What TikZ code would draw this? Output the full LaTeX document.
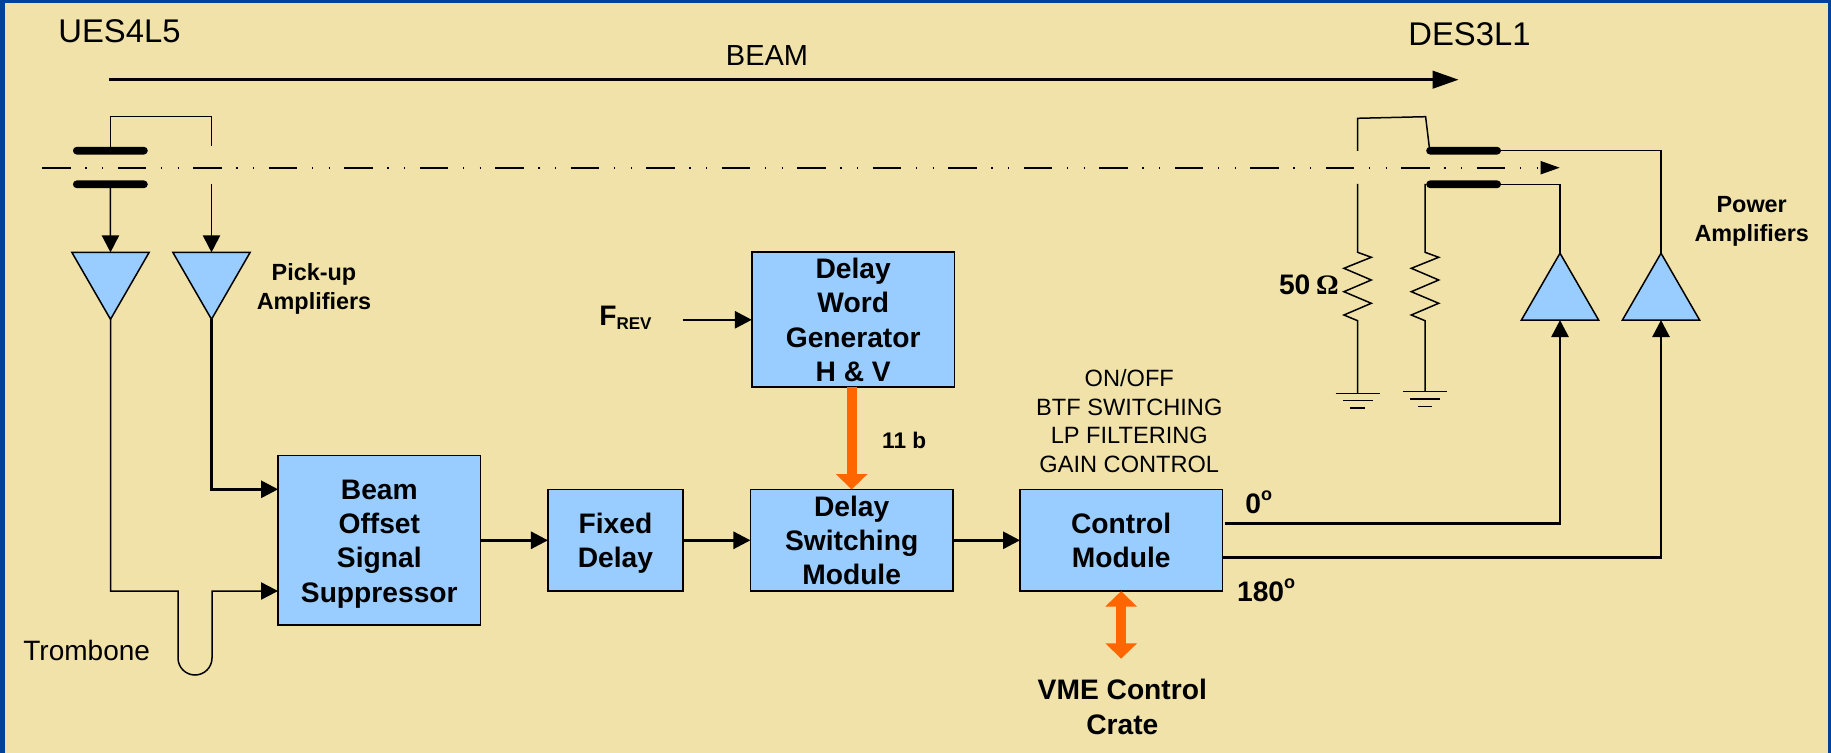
\documentclass[tikz,border=0pt]{standalone}
\usepackage{fontspec}
\setmainfont{Liberation Sans}
\newfontfamily\omegafont{Liberation Serif}
\usetikzlibrary{arrows.meta,shapes.geometric}
\definecolor{bgtan}{HTML}{F1E2A9}
\definecolor{frameblue}{HTML}{00429B}
\definecolor{boxblue}{HTML}{99CCFF}
\definecolor{busorange}{HTML}{FF6600}
\newcommand{\firstline}{\rule{0pt}{13.3pt}}
\tikzset{
  x=0.5pt,y=-0.5pt,
  box/.style={draw=black,fill=boxblue,line width=.8pt,inner sep=0pt,outer sep=0pt,align=center,
    font=\fontsize{14.1}{17.15}\selectfont\bfseries},
  ampdown/.style={regular polygon,regular polygon sides=3,shape border rotate=180,draw=black,fill=boxblue,
    line width=.75pt,minimum size=44.6pt,inner sep=0pt,outer sep=0pt},
  ampup/.style={ampdown,shape border rotate=0},
  plate/.style={fill=black,rounded corners=1.9pt,minimum width=37.4pt,minimum height=3.85pt,inner sep=0pt,outer sep=0pt},
  wire/.style={draw=black,line width=.75pt},
  heavy/.style={draw=black,line width=1.2pt},
  sig/.style={-{Triangle[length=8.5pt,width=8.6pt]}},
  bus/.style={draw=busorange,line width=4.9pt},
  bustip/.tip={Triangle[length=7.7pt,width=15.4pt]},
  smallbold/.style={font=\fontsize{11.7}{14.5}\selectfont\bfseries,align=center},
  plainlabel/.style={font=\fontsize{11.8}{14.4}\selectfont,align=center},
  bigbold/.style={font=\fontsize{14.1}{17.15}\selectfont\bfseries,align=center},
}
\begin{document}
\begin{tikzpicture}
\useasboundingbox (0,0) rectangle (1831,753);
\fill[frameblue] (0,0) rectangle (1831,753);
\fill[bgtan] (5,3) rectangle (1828,753);

% titles
\node[anchor=base west,inner sep=0pt,font=\fontsize{16.4}{20}\selectfont] (ues) at (58,42.7) {UES4L5};
\node[anchor=base west,inner sep=0pt,font=\fontsize{16.4}{20}\selectfont] (des) at (1408,45.7) {DES3L1};
\node[anchor=base,inner sep=0pt,font=\fontsize{14.5}{16}\selectfont] (beam) at (767,66) {BEAM};

% beam arrow
\coordinate (bs) at (109,79.7);
\coordinate (be) at (1458.5,79.7);
\draw[line width=1.25pt,-{Triangle[length=13pt,width=8.8pt]}] (bs) -- (be);

% beam axis
\coordinate (ax0) at (42.3,167.7);
\coordinate (ax1) at (1541,167.7);
\coordinate (ax2) at (1559.7,167.7);
\draw[line width=.85pt,dash pattern=on 14.2pt off 7.35pt on .6pt off 7.7pt on .6pt off 7.3pt] (ax0) -- (ax1);
\draw[line width=.75pt,-{Triangle[length=9.6pt,width=6.6pt]}] (ax1) -- (ax2);

% plates
\node[plate] (pu1) at (110.35,150.7) {};
\node[plate] (pd1) at (110.35,184.3) {};
\node[plate] (pu2) at (1463.6,150.7) {};
\node[plate] (pd2) at (1463.6,184.3) {};

% amplifiers
\node[ampdown] (a1) at (110.5,274.7) {};
\node[ampdown] (a2) at (211.5,274.7) {};
\node[ampup] (p1) at (1560,297.8) {};
\node[ampup] (p2) at (1661,297.8) {};

% boxes
\node[box,minimum width=101.25pt,minimum height=84.65pt] (bos) at (379.3,540.3) {\firstline Beam\\Offset\\Signal\\Suppressor};
\node[box,minimum width=67.5pt,minimum height=50.85pt] (fix) at (615.4,540.3) {\firstline Fixed\\Delay};
\node[box,minimum width=101.25pt,minimum height=50.85pt] (dsw) at (851.65,540.3) {Delay\\Switching\\Module};
\node[box,minimum width=101.4pt,minimum height=67.5pt] (dwg) at (853.2,319.8) {Delay\\Word\\Generator\\H \& V};
\node[box,minimum width=101.15pt,minimum height=50.85pt] (ctl) at (1121.15,540.3) {Control\\Module};

% pick-up wiring
\coordinate (t1) at (211.7,116.7);
\coordinate (t2) at (211.7,145.7);
\coordinate (t3) at (211.5,184);
\draw[wire] (pu1.north) |- (t1) -- (t2);
\draw[wire,sig] (pd1.south) -- (a1.side 2);
\draw[wire,sig] (t3) -- (a2.side 2);

% amplifier outputs and trombone
\coordinate (in1) at (278,489.3);
\draw[heavy,sig] (a2.corner 1) |- (bos.west |- in1);
\coordinate (tr1) at (178,591);
\coordinate (tr2) at (178,658);
\coordinate (tr3) at (212,591);
\draw[wire,sig] (a1.corner 1) |- (tr1) -- (tr2)
  arc[start angle=180,end angle=360,radius=8.5pt] -- (tr3) -- (bos.west |- tr3);

% main chain
\draw[heavy,sig] (bos.east) -- (fix.west);
\draw[heavy,sig] (fix.east) -- (dsw.west);
\draw[heavy,sig] (dsw.east) -- (ctl.west);

% FREV
\node[anchor=base west,inner sep=0pt,font=\fontsize{14.1}{17}\selectfont\bfseries] (frev) at (599,326)
  {F\raisebox{-1.7pt}{\fontsize{8.5}{10}\selectfont REV}};
\coordinate (fin) at (682.5,319.8);
\draw[heavy,sig] (fin) -- (dwg.west);

% orange buses
\draw[bus,-{bustip[]}] (dwg.south -| dsw.north) -- (dsw.north);
\node[anchor=base west,inner sep=0pt,font=\fontsize{11.3}{13}\selectfont\bfseries] (bits) at (881.8,448.3) {11 b};
\coordinate (vmeend) at (1121.15,658.7);
\draw[bus,{bustip[]}-{bustip[]}] (ctl.south) -- (vmeend);

% control outputs
\coordinate (o0) at (1224.7,523.3);
\coordinate (o1) at (1222,557.3);
\draw[heavy,sig] (o0) -| (p1.side 2);
\draw[heavy,sig] (o1) -| (p2.side 2);

% kicker wiring
\coordinate (k0) at (1357.6,151);
\coordinate (k1) at (1357.6,118.3);
\coordinate (k2) at (1425.6,116.7);
\coordinate (k3) at (1429.4,148);
\draw[wire] (k0) -- (k1) -- (k2) -- (k3);
\draw[wire] (pu2.east) -| (p2.corner 1);
\draw[wire] (pd2.east) -| (p1.corner 1);

% terminations
\coordinate (r1) at (1357.6,184);
\coordinate (r2) at (1425,184);
\draw[wire] (r1) -- ++(0,68.3) -- ++(13.7,5) -- ++(-27.4,11) -- ++(27.4,11.7) -- ++(-27.4,11.7) -- ++(27.4,11.6) -- ++(-27.4,11.7) -- ++(13.7,5.7) -- (1357.6,393.3) coordinate (g1);
\draw[wire] (r2) -- ++(0,68.3) -- ++(13.7,5) -- ++(-27.4,11) -- ++(27.4,11.7) -- ++(-27.4,11.7) -- ++(27.4,11.6) -- ++(-27.4,11.7) -- ++(13.7,5.7) -- (1425,391.7) coordinate (g2);
\foreach \g in {g1,g2}{
  \draw[wire] ([xshift=-11pt]\g) -- ([xshift=11pt]\g);
  \draw[wire] ([xshift=-7.5pt,yshift=-3.6pt]\g) -- ([xshift=7.5pt,yshift=-3.6pt]\g);
  \draw[wire] ([xshift=-3.6pt,yshift=-7.3pt]\g) -- ([xshift=3.6pt,yshift=-7.3pt]\g);
}

% labels
\node[smallbold,anchor=base,inner sep=0pt] (pick) at (314,310) {Pick-up\\Amplifiers};
\node[smallbold,anchor=base,inner sep=0pt] (pow) at (1751.7,241.7) {Power\\Amplifiers};
\node[anchor=base west,inner sep=0pt,font=\fontsize{14}{17}\selectfont] (trom) at (23,660.7) {Trombone};
\node[plainlabel,anchor=base,inner sep=0pt] (ctltext) at (1129.3,472.7) {ON/OFF\\BTF SWITCHING\\LP FILTERING\\GAIN CONTROL};
\node[bigbold,anchor=base,inner sep=0pt] (vme) at (1122.3,734) {VME Control\\Crate};
\node[anchor=base east,inner sep=0pt,font=\fontsize{14.1}{17}\selectfont\bfseries] (ohm) at (1339,295) {50\hspace{.2em}{\omegafont\bfseries Ω}};
\node[anchor=base west,inner sep=0pt,font=\fontsize{14.1}{17}\selectfont\bfseries] (deg0) at (1245,513.3) {0\raisebox{6.3pt}{\fontsize{9}{10}\selectfont o}};
\node[anchor=base west,inner sep=0pt,font=\fontsize{14.1}{17}\selectfont\bfseries] (deg1) at (1236.7,601) {180\raisebox{6.3pt}{\fontsize{9}{10}\selectfont o}};
\end{tikzpicture}
\end{document}
